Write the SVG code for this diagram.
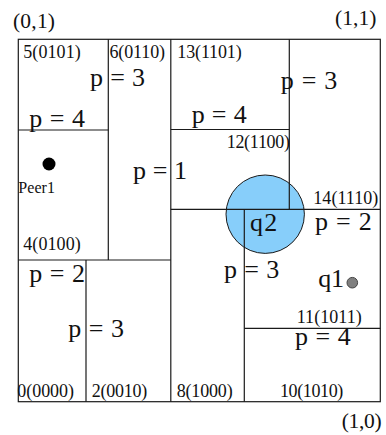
<svg xmlns="http://www.w3.org/2000/svg" width="386" height="435" viewBox="0 0 386 435">
<style>
text{font-family:"Liberation Serif","Times New Roman",serif;fill:#111}
.c{font-size:21.5px}
.r{font-size:18px}
.p{font-size:26px}
.q{font-size:26px}
.pe{font-size:16px}
.ln{stroke:#1a1a1a;stroke-width:1.2;fill:none}
</style>
<rect width="386" height="435" fill="#fff"/>
<circle id="q2-range" cx="265.2" cy="214.2" r="39.2" fill="#87CEFA" stroke="#1a1a1a" stroke-width="1"/>
<g id="partition" class="ln">
<rect x="18.3" y="39.3" width="362" height="362.4"/>
<line x1="108.3" y1="39.3" x2="108.3" y2="260"/>
<line x1="18.3" y1="130" x2="108.3" y2="130"/>
<line x1="170.8" y1="39.3" x2="170.8" y2="401.7"/>
<line x1="18.3" y1="260" x2="170.8" y2="260"/>
<line x1="86" y1="260" x2="86" y2="401.7"/>
<line x1="289.3" y1="39.3" x2="289.3" y2="209.3"/>
<line x1="170.8" y1="129.5" x2="289.3" y2="129.5"/>
<line x1="170.8" y1="209.3" x2="380.3" y2="209.3"/>
<line x1="244.3" y1="209.3" x2="244.3" y2="401.7"/>
<line x1="244.3" y1="328.3" x2="380.3" y2="328.3"/>
</g>
<g id="corners">
<text class="c" x="13" y="28" textLength="42">(0,1)</text>
<text class="c" x="335" y="25" textLength="41.5">(1,1)</text>
<text class="c" x="341.7" y="428.3" textLength="40">(1,0)</text>
</g>
<g id="region-labels">
<text class="r" x="23.3" y="58.3" textLength="57.4">5(0101)</text>
<text class="r" x="109.5" y="58.3" textLength="55.5">6(0110)</text>
<text class="r" x="177.3" y="58.3" textLength="64.4">13(1101)</text>
<text class="r" x="226.7" y="148" textLength="63.3">12(1100)</text>
<text class="r" x="313.3" y="204" textLength="65">14(1110)</text>
<text class="r" x="23.3" y="250" textLength="57.4">4(0100)</text>
<text class="r" x="296.7" y="323.3" textLength="65">11(1011)</text>
<text class="r" x="17.3" y="396.7" textLength="56.7">0(0000)</text>
<text class="r" x="91.7" y="396.7" textLength="55.6">2(0010)</text>
<text class="r" x="176.7" y="396.5" textLength="56">8(1000)</text>
<text class="r" x="280" y="396.5" textLength="63.3">10(1010)</text>
</g>
<g id="p-labels">
<text class="p" x="90" y="86" textLength="55">p = 3</text>
<text class="p" x="29.3" y="127.3" textLength="55.7">p = 4</text>
<text class="p" x="191.7" y="123.3" textLength="55">p = 4</text>
<text class="p" x="280.7" y="89.3" textLength="56.6">p = 3</text>
<text class="p" x="133" y="179.3" textLength="54">p = 1</text>
<text class="p" x="315" y="230" textLength="56.7">p = 2</text>
<text class="p" x="224" y="278.3" textLength="55.3">p = 3</text>
<text class="p" x="29.3" y="281.7" textLength="55.7">p = 2</text>
<text class="p" x="68.3" y="337.3" textLength="55.7">p = 3</text>
<text class="p" x="295" y="345" textLength="55.7">p = 4</text>
</g>
<g id="peer1">
<circle cx="49" cy="164" r="6.5" fill="#000"/>
<text class="pe" x="18.3" y="192.7" textLength="36.7">Peer1</text>
</g>
<g id="q2">
<text class="q" x="250" y="230.7" textLength="27.3">q2</text>
</g>
<g id="q1">
<text class="q" x="318.3" y="287" textLength="25.7">q1</text>
<circle cx="352.3" cy="282.7" r="5.3" fill="#7f7f7f" stroke="#444" stroke-width="1"/>
</g>
</svg>
